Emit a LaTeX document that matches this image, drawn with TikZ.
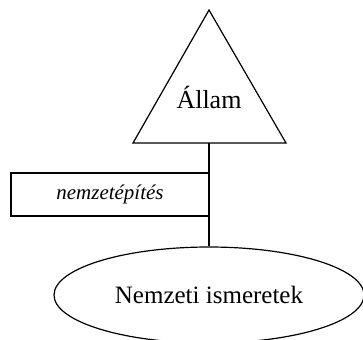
\documentclass[tikz,border=0pt]{standalone}
\usepackage{fontspec}
\setmainfont{Liberation Serif}
\usetikzlibrary{shapes.geometric}

\begin{document}
\begin{tikzpicture}[x=0.5pt, y=-0.5pt, line width=0.6pt,
  headtext/.style={inner sep=0pt, font=\fontsize{13}{15}\selectfont},
  actbox/.style={draw, rectangle, inner sep=0pt, minimum width=99pt, minimum height=21.5pt, font=\fontsize{10.5}{12}\selectfont\itshape},
  fieldshape/.style={draw, ellipse, inner sep=0pt, minimum width=155pt, minimum height=48pt, font=\fontsize{12.5}{15}\selectfont}]
  \useasboundingbox (0,0) rectangle (363,339);
  % triangle
  \coordinate (apex) at (209,10);
  \coordinate (baseleft) at (133,143);
  \coordinate (baseright) at (286,143);
  \coordinate (basemid) at (209,143);
  \draw (apex) -- (baseleft) -- (baseright) -- cycle;
  \node[headtext] (allam) at (209,97) {Állam};
  % box and ellipse
  \node[actbox] (build) at (110,194.5) {nemzetépítés};
  \node[fieldshape] (field) at (209,295) {Nemzeti ismeretek};
  \draw (basemid) -- (field.north);
\end{tikzpicture}
\end{document}
